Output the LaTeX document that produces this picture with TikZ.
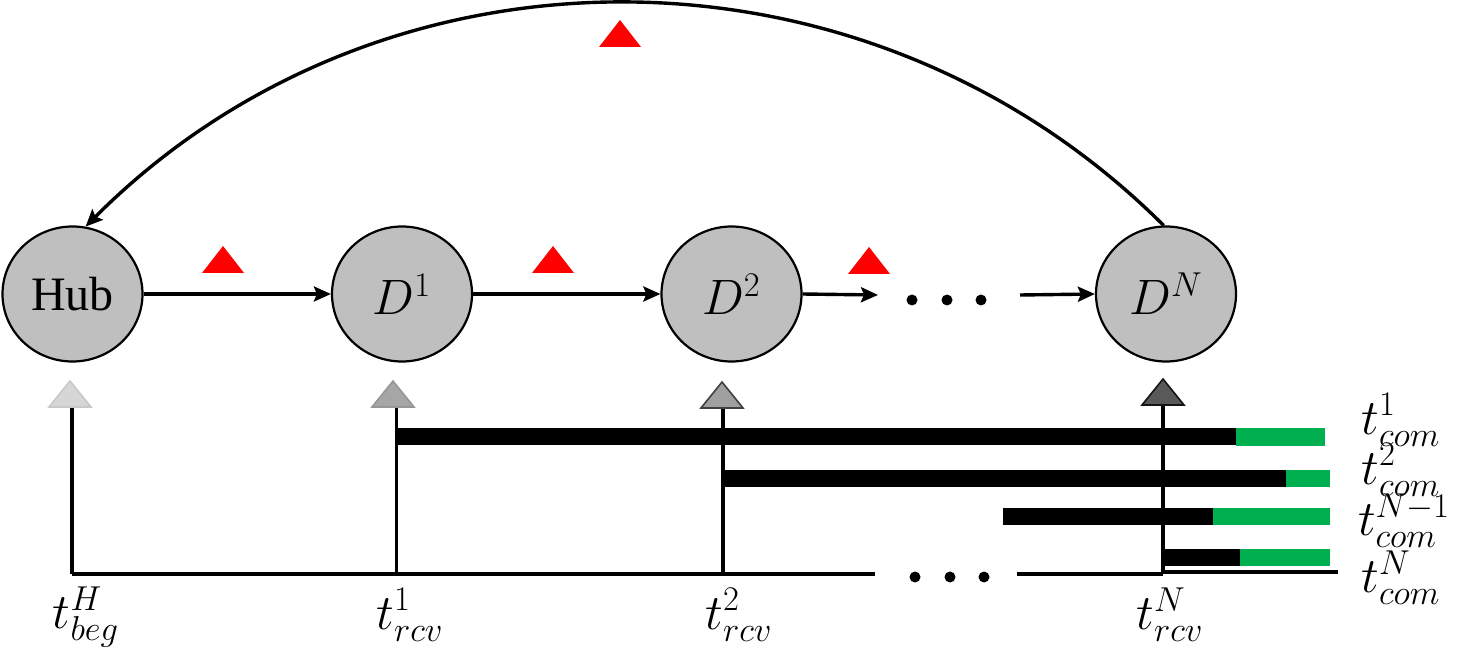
\documentclass[tikz,border=0pt]{standalone}
\usepackage[no-math]{fontspec}
\setmainfont{Liberation Serif}
\usetikzlibrary{shapes.geometric,arrows.meta}
\definecolor{nodegray}{RGB}{191,191,191}
\definecolor{bargreen}{RGB}{0,176,80}
\definecolor{triA}{RGB}{214,214,214}
\definecolor{triAb}{RGB}{200,200,200}
\definecolor{triB}{RGB}{166,166,166}
\definecolor{triBb}{RGB}{150,150,150}
\definecolor{triC}{RGB}{160,160,160}
\definecolor{triCb}{RGB}{64,64,64}
\definecolor{triD}{RGB}{89,89,89}
\definecolor{triDb}{RGB}{20,20,20}
\begin{document}
\begin{tikzpicture}[x=0.5pt,y=-0.5pt,
  dev/.style={ellipse, draw=black, line width=1.1pt, fill=nodegray,
    minimum width=70pt, minimum height=67.5pt, inner sep=0pt,
    font=\fontsize{24}{28}\selectfont},
  flow/.style={-{Stealth[length=8.5pt,width=7.5pt,inset=1.5pt]}, line width=1.7pt},
  tline/.style={line width=1.6pt},
  lab/.style={inner sep=0pt, font=\fontsize{27}{30}\selectfont},
  comlab/.style={inner sep=0pt, font=\fontsize{27}{30}\selectfont},
  pics/redmark/.style={code={\fill[red] (-21,13.5) -- (0,-13.5) -- (21,13.5) -- cycle;}},
  pics/tmark/.style 2 args={code={\filldraw[fill=#1, draw=#2, line width=0.8pt] (-21,13) -- (0,-13) -- (21,13) -- cycle;}}
]
\useasboundingbox (0,0) rectangle (1459,657);

% nodes
\node[dev] (Hub) at (72.5,294) {Hub};
\node[dev] (D1) at (402,294) {$D^1$};
\node[dev] (D2) at (731.5,294) {$D^2$};
\node[dev] (DN) at (1166,294) {$D^N$};

% top flow arrows
\coordinate (a3end) at (878,295);
\coordinate (a4start) at (1020,295);
\draw[flow] (Hub.east) -- (D1.west);
\draw[flow] (D1.east) -- (D2.west);
\draw[flow] (D2.east) -- (a3end);
\draw[flow] (a4start) -- (DN.west);
\foreach \x in {912,947,981} \fill (\x,300) circle (5.5);

% return arc
\draw[flow] (DN.92) to[bend right=45] (Hub.79);

% red markers
\pic at (223,259.5) {redmark};
\pic at (553,259.5) {redmark};
\pic at (869,260.5) {redmark};
\pic at (620,33.5) {redmark};

% timeline verticals
\coordinate (h0) at (72,574);
\coordinate (h0t) at (72,407);
\coordinate (r1) at (396.5,574);
\coordinate (r1t) at (396.5,407);
\coordinate (r2) at (723,574);
\coordinate (r2t) at (723,407);
\coordinate (rN) at (1163,574);
\coordinate (rNt) at (1163,405);
\draw[tline] (h0t) -- (h0);
\draw[tline] (r1t) -- (r1);
\draw[tline] (r2t) -- (r2);
\draw[tline] (rNt) -- (rN);
\pic at (70,394) {tmark={triA}{triAb}};
\pic at (393,394) {tmark={triB}{triBb}};
\pic at (722,395) {tmark={triC}{triCb}};
\pic at (1163,392) {tmark={triD}{triDb}};

% baseline
\coordinate (bgap1) at (875,574);
\coordinate (bgap2) at (1017,574);
\coordinate (bend1) at (1165,572);
\coordinate (bend2) at (1338,572);
\draw[tline] (h0) -- (bgap1);
\draw[tline] (bgap2) -- (rN);
\draw[tline] (bend1) -- (bend2);
\foreach \x in {915,950,984} \fill (\x,577) circle (5.5);

% bars
\fill[black] (397,427.5) rectangle (1236,445);
\fill[bargreen] (1236,428) rectangle (1325,445.5);
\fill[black] (723,470) rectangle (1286,487);
\fill[bargreen] (1286,470) rectangle (1330,487);
\fill[black] (1003,507.5) rectangle (1213,524.5);
\fill[bargreen] (1213,507.5) rectangle (1330,524.5);
\fill[black] (1164,549) rectangle (1240,566);
\fill[bargreen] (1240,549) rectangle (1330,566);

% labels
\node[lab] (lH) at (86,617) {$t^{H}_{beg}$};
\node[lab] (l1) at (410,615) {$t^{1}_{rcv}$};
\node[lab] (l2) at (739,615) {$t^{2}_{rcv}$};
\node[lab] (lN) at (1170,615) {$t^{N}_{rcv}$};
\node[comlab] (c1) at (1401,420) {$t^{1}_{com}$};
\node[comlab] (c2) at (1401,470) {$t^{2}_{com}$};
\node[comlab] (c3) at (1404,521) {$t^{N-1}_{com}$};
\node[comlab] (c4) at (1401,578) {$t^{N}_{com}$};
\end{tikzpicture}
\end{document}
